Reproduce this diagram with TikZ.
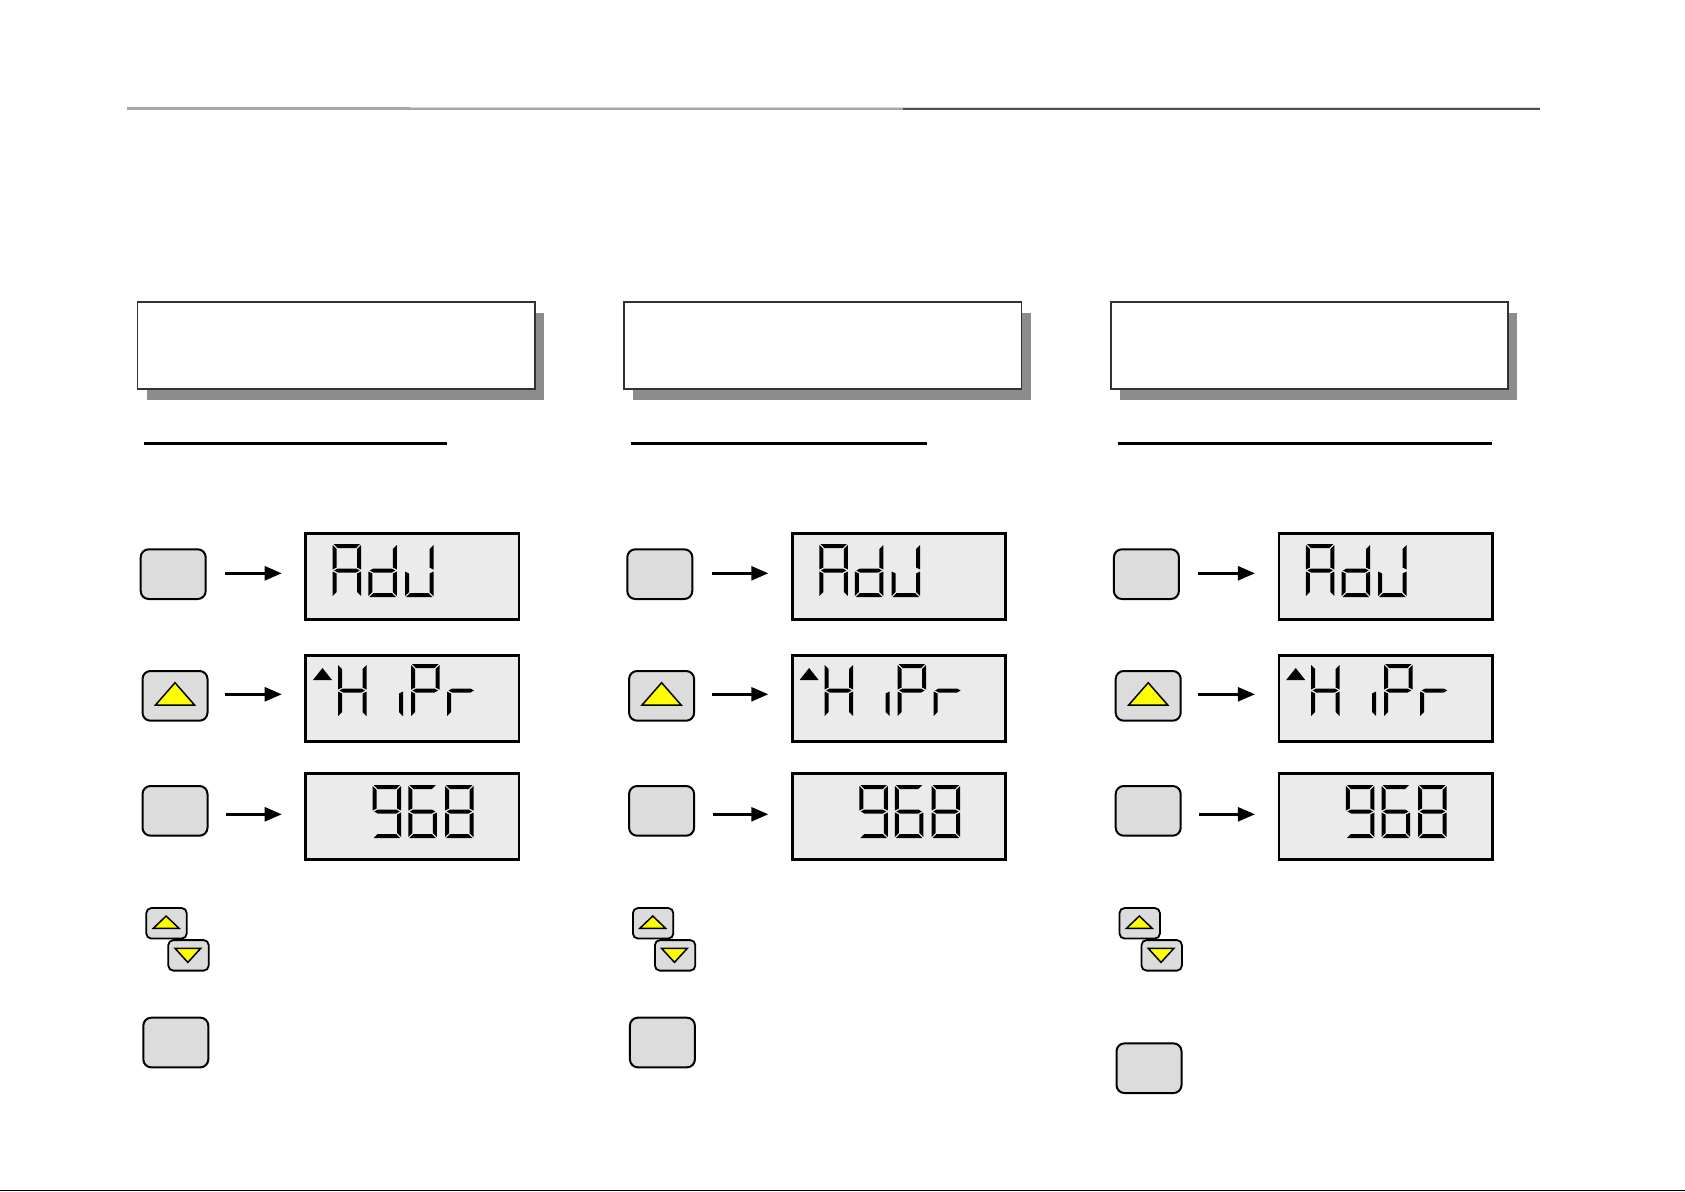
\documentclass[tikz,border=0pt]{standalone}
\usetikzlibrary{arrows.meta,shadows}
\definecolor{btnfill}{HTML}{DCDCDC}
\definecolor{lcdfill}{HTML}{EBEBEB}
\definecolor{shadowgray}{HTML}{8C8C8C}
\definecolor{boxedge}{HTML}{333333}
\definecolor{keyyellow}{HTML}{FFFF00}
\definecolor{rulegray}{HTML}{A6A6A6}
\definecolor{ruledark}{HTML}{505050}
\definecolor{rulelight}{HTML}{D9D9D9}
% seven-segment pieces (cell 28.5 x 53, y downwards)
\newcommand\lcdsega{\fill (1,0) -- (27.5,0) -- (23.5,4) -- (5,4) -- cycle;}
\newcommand\lcdsegd{\fill (1,53) -- (27.5,53) -- (23.5,49) -- (5,49) -- cycle;}
\newcommand\lcdsegg{\fill (1.5,26.5) -- (5,24.5) -- (23.5,24.5) -- (27,26.5) -- (23.5,28.5) -- (5,28.5) -- cycle;}
\newcommand\lcdsegf{\fill (0,1) -- (4,5) -- (4,23.5) -- (0,25.5) -- cycle;}
\newcommand\lcdsege{\fill (0,27.5) -- (4,29.5) -- (4,48) -- (0,52) -- cycle;}
\newcommand\lcdsegb{\fill (28.5,1) -- (24.5,5) -- (24.5,23.5) -- (28.5,25.5) -- cycle;}
\newcommand\lcdsegc{\fill (28.5,27.5) -- (24.5,29.5) -- (24.5,48) -- (28.5,52) -- cycle;}
\newcommand\lcddigit[3]{\begin{scope}[shift={(#1,#2)}]\foreach \s in {#3}{\csname lcdseg\s\endcsname}\end{scope}}
\begin{document}
\begin{tikzpicture}[x=1pt,y=-1pt,
  panel/.style={draw=boxedge,line width=1.6pt,fill=white,minimum width=397.5pt,minimum height=87pt,inner sep=0pt,outer sep=0pt,
    drop shadow={shadow xshift=9pt,shadow yshift=-10.5pt,fill=shadowgray,opacity=1}},
  keybig/.style={draw=black,line width=2pt,fill=btnfill,rounded corners=8pt,minimum width=65pt,minimum height=49.7pt,inner sep=0pt,outer sep=0pt},
  keysmall/.style={draw=black,line width=1.8pt,fill=btnfill,rounded corners=5pt,minimum width=40.4pt,minimum height=30.5pt,inner sep=0pt,outer sep=0pt},
  lcd/.style={draw=black,line width=2.7pt,fill=lcdfill,minimum width=213.3pt,minimum height=86pt,inner sep=0pt,outer sep=0pt},
  arr/.style={line width=2.5pt,-{Triangle[length=17pt,width=14pt]},shorten >=24pt},
  tri/.style={draw=black,line width=1.5pt,fill=keyyellow,line join=miter},
  uline/.style={line width=2.5pt,black}]
\useasboundingbox (0,0) rectangle (1685,1191);
% top rule
\draw[rulegray,line width=2.5pt] (127,108.5) -- (410,108.5);
\draw[rulelight,line width=1pt] (410,107.3) -- (1540,107.3);
\draw[rulegray,line width=1.5pt] (410,108.8) -- (903,108.8);
\draw[ruledark,line width=1.5pt] (903,108.8) -- (1540,108.8);
% underlines
\coordinate (u0a) at (144,443.5);    \coordinate (u0b) at (447,443.5);
\coordinate (u1a) at (630.8,443.5);  \coordinate (u1b) at (927.4,443.5);
\coordinate (u2a) at (1117.6,443.5); \coordinate (u2b) at (1491.5,443.5);
\foreach \c in {0,1,2}{\draw[uline] (u\c a) -- (u\c b);}
\foreach \c in {0,1,2}{
  \pgfmathsetmacro\dx{\c*486.6}
  \ifnum\c=2 \def\dy{25.7}\else\def\dy{0}\fi
  % heading panel
  \node[panel] (p\c) at ({336.25+\dx},345.5) {};
  % keys
  \node[keybig] (k1\c) at ({173.2+\dx},574.15) {};
  \node[keybig] (k2\c) at ({175+\dx},695.85) {};
  \node[keybig] (k3\c) at ({175+\dx},810.85) {};
  \node[keysmall] (ku\c) at ({166.5+\dx},923.3) {};
  \node[keysmall] (kd\c) at ({188.5+\dx},955.35) {};
  \node[keybig] (k4\c) at ({175.8+\dx},{1042.5+\dy}) {};
  \begin{scope}[shift={(k2\c.center)}]
    \draw[tri] (-19.5,9.15) -- (19.5,9.15) -- (0,-13.15) -- cycle;
  \end{scope}
  \begin{scope}[shift={(ku\c.center)}]
    \draw[tri] (-13.2,5) -- (12.5,5) -- (-0.35,-7.3) -- cycle;
  \end{scope}
  \begin{scope}[shift={(kd\c.center)}]
    \draw[tri] (-13.5,-7) -- (12.2,-7) -- (-0.65,7) -- cycle;
  \end{scope}
  % displays
  \node[lcd] (lcd1\c) at ({412.35+\dx},576.7) {};
  \node[lcd] (lcd2\c) at ({412.35+\dx},698.7) {};
  \node[lcd] (lcd3\c) at ({412.35+\dx},816.65) {};
  % arrows
  \coordinate (s1\c) at ({225+\dx},573.3);
  \coordinate (s2\c) at ({225+\dx},694.3);
  \coordinate (s3\c) at ({226+\dx},814.3);
  \draw[arr] (s1\c) -- (s1\c -| lcd1\c.west);
  \draw[arr] (s2\c) -- (s2\c -| lcd2\c.west);
  \draw[arr] (s3\c) -- (s3\c -| lcd3\c.west);
  % display texts
  \lcddigit{332.7+\dx}{544}{a,b,c,e,f,g}
  \lcddigit{368.3+\dx}{544}{b,c,d,e,g}
  \lcddigit{405+\dx}{544}{b,c,d,e}
  \fill ({313+\dx},680) -- ({332+\dx},680) -- ({322.5+\dx},668) -- cycle;
  \lcddigit{338+\dx}{664}{b,c,e,f,g}
  \lcddigit{374.5+\dx}{664}{c}
  \lcddigit{411+\dx}{664}{a,b,e,f,g}
  \lcddigit{447+\dx}{664}{e,g}
  \lcddigit{372.7+\dx}{785}{a,b,c,d,f,g}
  \lcddigit{408.3+\dx}{785}{a,c,d,e,f,g}
  \lcddigit{445+\dx}{785}{a,b,c,d,e,f,g}
}
% bottom edge line
\draw[black,line width=1pt] (0,1190.5) -- (1685,1190.5);
\end{tikzpicture}
\end{document}
